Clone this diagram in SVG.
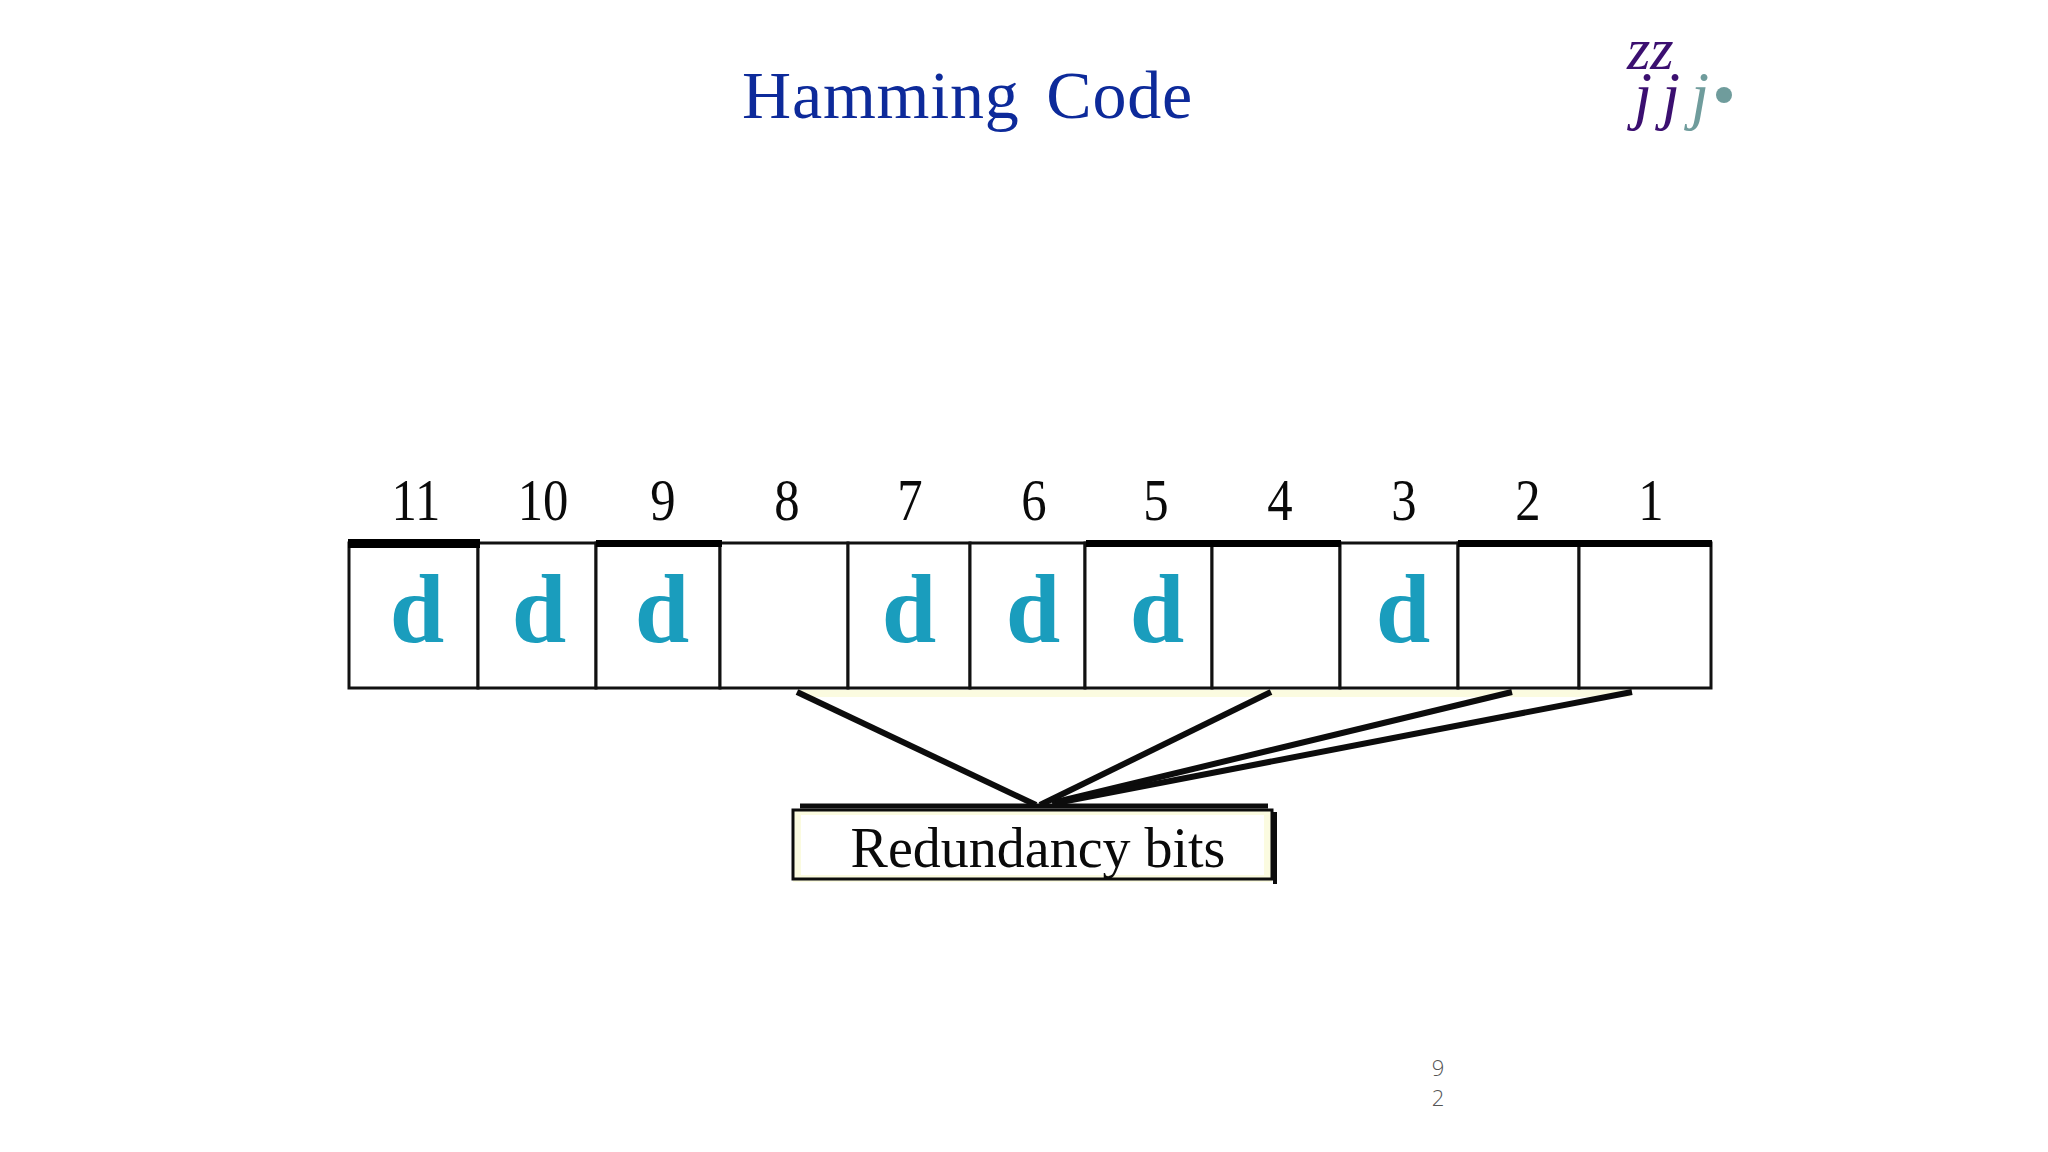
<svg xmlns="http://www.w3.org/2000/svg" width="2048" height="1152" viewBox="0 0 2048 1152">
<style>
text{font-family:"Liberation Serif","Times New Roman",serif}
.n{font-size:59px;fill:#0a0a0a;text-anchor:middle}
.d{font-size:98px;font-weight:bold;fill:#1a9dbd;text-anchor:middle}
.c{fill:#fff;stroke:#111;stroke-width:3}
.bar{fill:#000}
.l{stroke:#0c0c0c;stroke-width:6;stroke-linecap:butt;fill:none}
.j{font-size:65px;font-style:italic}
.pg{font-family:"Open Sans","Noto Sans",sans-serif;font-size:22px;font-weight:300;fill:#555;text-anchor:middle}
</style>
<rect width="2048" height="1152" fill="#fff"/>
<rect x="800" y="690" width="830" height="7" fill="#fbfbe0"/>
<g id="title"><text x="742" y="118" font-size="68" fill="#0d2a9a" letter-spacing="0.8" word-spacing="9">Hamming Code</text></g>
<g id="logo">
<text x="1627" y="69" font-size="60" font-style="italic" fill="#3b0f70">zz</text>
<text class="j" x="1634" y="117" fill="#3b0f70">j</text>
<text class="j" x="1662" y="117" fill="#3b0f70">j</text>
<text class="j" x="1691" y="117" fill="#6f9c9c">j</text>
<circle cx="1724" cy="95" r="8" fill="#6f9c9c"/>
</g>
<g id="bit11"><rect class="c" x="349" y="543" width="129" height="145"/><text class="n" transform="translate(416 520) scale(.86 1)">11</text><text class="d" x="417" y="642">d</text></g>
<g id="bit10"><rect class="c" x="478" y="543" width="118" height="145"/><text class="n" transform="translate(543 520) scale(.86 1)">10</text><text class="d" x="539" y="642">d</text></g>
<g id="bit9"><rect class="c" x="596" y="543" width="124" height="145"/><text class="n" transform="translate(663 520) scale(.86 1)">9</text><text class="d" x="662" y="642">d</text></g>
<g id="bit8"><rect class="c" x="720" y="543" width="128" height="145"/><text class="n" transform="translate(787 520) scale(.86 1)">8</text></g>
<g id="bit7"><rect class="c" x="848" y="543" width="122" height="145"/><text class="n" transform="translate(910 520) scale(.86 1)">7</text><text class="d" x="909" y="642">d</text></g>
<g id="bit6"><rect class="c" x="970" y="543" width="115" height="145"/><text class="n" transform="translate(1034 520) scale(.86 1)">6</text><text class="d" x="1033" y="642">d</text></g>
<g id="bit5"><rect class="c" x="1085" y="543" width="127" height="145"/><text class="n" transform="translate(1156 520) scale(.86 1)">5</text><text class="d" x="1157" y="642">d</text></g>
<g id="bit4"><rect class="c" x="1212" y="543" width="128" height="145"/><text class="n" transform="translate(1280 520) scale(.86 1)">4</text></g>
<g id="bit3"><rect class="c" x="1340" y="543" width="118" height="145"/><text class="n" transform="translate(1404 520) scale(.86 1)">3</text><text class="d" x="1403" y="642">d</text></g>
<g id="bit2"><rect class="c" x="1458" y="543" width="121" height="145"/><text class="n" transform="translate(1528 520) scale(.86 1)">2</text></g>
<g id="bit1"><rect class="c" x="1579" y="543" width="132" height="145"/><text class="n" transform="translate(1651 520) scale(.86 1)">1</text></g>
<g id="bars">
<rect class="bar" x="348" y="539" width="132" height="9"/>
<rect class="bar" x="596" y="540" width="126" height="7"/>
<rect class="bar" x="1086" y="540" width="255" height="7"/>
<rect class="bar" x="1458" y="540" width="254" height="7"/>
</g>
<g id="connectors">
<line class="l" x1="797" y1="692" x2="1036" y2="805"/>
<line class="l" x1="1271" y1="692" x2="1040" y2="805"/>
<line class="l" x1="1512" y1="692" x2="1052" y2="803"/>
<line class="l" x1="1632" y1="692" x2="1056" y2="803"/>
</g>
<g id="redundancy">
<rect x="793" y="810" width="479" height="72" fill="#fbfbe0"/>
<rect x="801" y="815" width="463" height="60" fill="#fff"/>
<path d="M800 806H1268" stroke="#0c0c0c" stroke-width="5" fill="none"/>
<path d="M793 810H1272V879H793Z" stroke="#0c0c0c" stroke-width="3" fill="none"/>
<path d="M1275 812V884" stroke="#0c0c0c" stroke-width="4" fill="none"/>
<text x="1038" y="867" font-size="56" fill="#0a0a0a" text-anchor="middle">Redundancy bits</text>
</g>
<g id="page"><text class="pg" x="1438" y="1076">9</text><text class="pg" x="1438" y="1106">2</text></g>
</svg>
